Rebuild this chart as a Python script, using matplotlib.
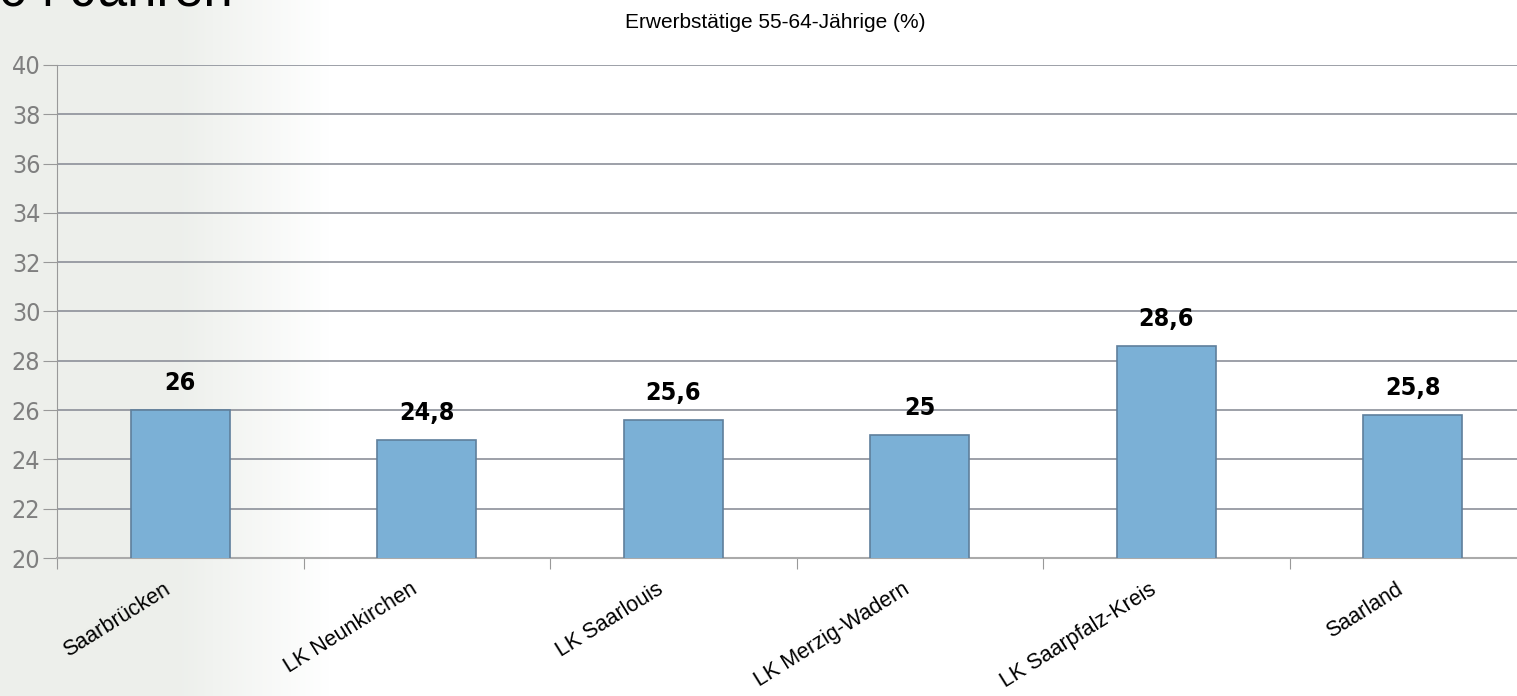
import matplotlib
matplotlib.use("Agg")
import matplotlib.pyplot as plt
import numpy as np
from matplotlib import font_manager
from matplotlib.font_manager import FontProperties

categories = ["Saarbrücken", "LK Neunkirchen", "LK Saarlouis", "LK Merzig-Wadern", "LK Saarpfalz-Kreis", "Saarland"]
values = [26.0, 24.8, 25.6, 25.0, 28.6, 25.8]
value_labels = ["26", "24,8", "25,6", "25", "28,6", "25,8"]
yticks = [20, 22, 24, 26, 28, 30, 32, 34, 36, 38, 40]
title = "Erwerbstätige 55-64-Jährige (%)"
header = "64 Jahren"

# find a narrow / condensed font if installed
def find_font(bold):
    best = None
    for f in font_manager.fontManager.ttflist:
        fn = f.fname.lower()
        isbold = ("bold" in fn) or (isinstance(f.weight, int) and f.weight >= 600) or f.weight == "bold"
        if isbold != bold or "oblique" in fn or "italic" in fn:
            continue
        if "liberationsansnarrow" in fn.replace("-", "").replace(" ", ""):
            return f.fname
        if "condensed" in fn and "dejavusans" in fn.replace("-", "") and "mono" not in fn:
            best = f.fname
    return best

nr = find_font(False)
nb = find_font(True)
def fp(path, size, weight="normal"):
    if path:
        return FontProperties(fname=path, size=size)
    return FontProperties(family="Liberation Sans", size=size, weight=weight)

W, H = 1517, 696
fig = plt.figure(figsize=(W/100, H/100), dpi=100)

# faint background on the left
bg = fig.add_axes([0, 0, 1, 1], zorder=-10)
bg.set_xlim(0, W); bg.set_ylim(H, 0); bg.axis("off")
img = np.ones((10, 300, 3))
c0 = np.array([0.93, 0.94, 0.925]); c1 = np.array([1, 1, 1])
for i, g in enumerate(np.linspace(0, 1, 300)):
    t = min(1, max(0, (g - 0.55) / 0.45))
    img[:, i, :] = c0 * (1 - t) + c1 * t
bg.imshow(img, extent=[0, 330, H, 0], aspect="auto", zorder=-10)

left = 57 / W
cat_w = 246.5 / W
ax = fig.add_axes([left, (H - 558) / H, cat_w * 6, (558 - 65) / H])
x = np.arange(len(categories))
ax.bar(x, values, width=0.4, bottom=0, color="#7bb0d6", edgecolor="#5f7f9c", linewidth=1.2, zorder=3)
ax.set_ylim(20, 40)
ax.set_xlim(-0.5, len(categories) - 0.5)
ax.set_yticks(yticks)
ax.set_yticklabels([str(v) for v in yticks], fontproperties=fp(nr, 18), color="#7f7f7f")
ax.set_xticks(x - 0.5, minor=False)
ax.set_xticklabels([])
ax.set_xticks(x - 0.07, minor=True)
ax.set_xticklabels(categories, minor=True, rotation=32, ha="right", rotation_mode="anchor",
                   fontproperties=FontProperties(family="Liberation Sans", size=15.5))
ax.tick_params(axis="x", which="minor", length=0, pad=15)
ax.tick_params(axis="x", which="major", length=8, color="#999999", direction="out")
ax.tick_params(axis="y", length=10, color="#999999", pad=2)
ax.grid(axis="y", color="#8c9099", linewidth=1.2, zorder=0)
for s in ["top", "right"]:
    ax.spines[s].set_visible(False)
ax.spines["left"].set_color("#999999")
ax.spines["bottom"].set_color("#aaaaaa")
ax.spines["bottom"].set_linewidth(1.5)
ax.patch.set_alpha(0)

for xi, v, lab in zip(x, values, value_labels):
    ax.text(xi, v + 0.6, lab, ha="center", va="bottom",
            fontproperties=fp(nb, 18, "bold") if nb else FontProperties(family="Liberation Sans", size=17, weight="bold"))

fig.text(775 / W, 1 - 22 / H, title, ha="center", va="center", fontsize=15, family="Liberation Sans")
fig.text(-2 / W, 1 - 5 / H, header, ha="left", va="baseline", fontsize=38, family="Liberation Sans")

fig.savefig("out.png", dpi=100)
